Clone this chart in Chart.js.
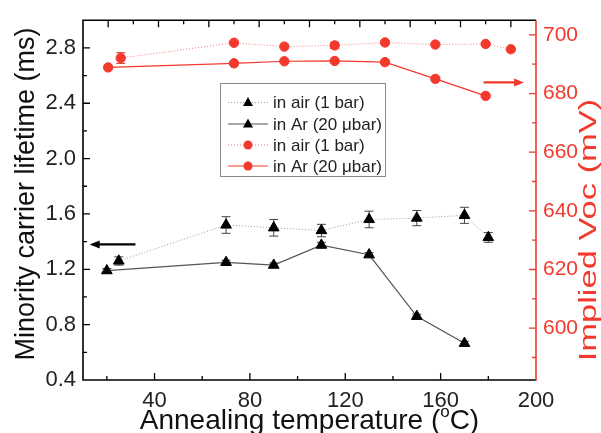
<!DOCTYPE html>
<html><head><meta charset="utf-8">
<script src="https://cdn.jsdelivr.net/npm/chart.js@4.4.0/dist/chart.umd.min.js"></script>
<style>html,body{margin:0;padding:0;background:#fff;}#wrap{width:601px;height:433px;}</style>
</head><body><div id="wrap"><canvas id="c" width="601" height="433"></canvas></div>
<script>
// ---- data ----
const tempAirLife = [25, 70, 90, 110, 130, 150, 170, 180];
const lifeAir     = [1.26, 1.52, 1.50, 1.48, 1.56, 1.57, 1.59, 1.43];
const lifeAirErr  = [0.03, 0.06, 0.06, 0.045, 0.06, 0.055, 0.058, 0.035];
const tempArLife  = [20, 70, 90, 110, 130, 150, 170];
const lifeAr      = [1.19, 1.25, 1.23, 1.375, 1.305, 0.86, 0.665];
const lifeArErr   = [0.015, 0.015, 0.015, 0.02, 0.015, 0.015, 0.015];
const tempAirVoc  = [25, 70, 90, 110, 130, 150, 170, 180];
const vocAir      = [692.1, 697.3, 696.0, 696.4, 697.4, 696.7, 696.9, 695.1];
const vocAirErr   = [1.8, 0, 0, 1.0, 0, 0, 0, 0];
const tempArVoc   = [20, 70, 90, 110, 130, 150, 170];
const vocAr       = [688.9, 690.3, 691.0, 691.1, 690.7, 685.0, 679.2];
const xTickLabels    = [40, 80, 120, 160, 200];
const lifeTickLabels = [0.4, 0.8, 1.2, 1.6, 2.0, 2.4, 2.8];
const vocTickLabels  = [600, 620, 640, 660, 680, 700];
const legendLabels = ['in air (1 bar)', 'in Ar (20 \u03bcbar)', 'in air (1 bar)', 'in Ar (20 \u03bcbar)'];

const RED = '#f2392c';
const FONT = '"Liberation Sans", Arial, sans-serif';

const pts = (xs, ys) => xs.map((x, i) => ({x, y: ys[i]}));

const datasets = [
  {label: legendLabels[0], data: pts(tempAirLife, lifeAir), err: lifeAirErr, xAxisID: 'x', yAxisID: 'y',
   borderColor: '#9a9a9a', borderDash: [1, 2], borderWidth: 1, pointStyle: 'triangle', pointRadius: 6.2,
   pointBackgroundColor: '#000', pointBorderColor: '#000', pointBorderWidth: 1, errColor: '#444'},
  {label: legendLabels[1], data: pts(tempArLife, lifeAr), err: lifeArErr, xAxisID: 'x', yAxisID: 'y',
   borderColor: '#555', borderDash: [], borderWidth: 1.2, pointStyle: 'triangle', pointRadius: 6.2,
   pointBackgroundColor: '#000', pointBorderColor: '#000', pointBorderWidth: 1, errColor: '#444'},
  {label: legendLabels[2], data: pts(tempAirVoc, vocAir), err: vocAirErr, xAxisID: 'x2', yAxisID: 'y2',
   borderColor: '#f77', borderDash: [1, 2], borderWidth: 1, pointStyle: 'circle', pointRadius: 4.7,
   pointBackgroundColor: RED, pointBorderColor: RED, pointBorderWidth: 1, errColor: '#c22'},
  {label: legendLabels[3], data: pts(tempArVoc, vocAr), xAxisID: 'x2', yAxisID: 'y2',
   borderColor: RED, borderDash: [], borderWidth: 1.2, pointStyle: 'circle', pointRadius: 4.7,
   pointBackgroundColor: RED, pointBorderColor: RED, pointBorderWidth: 1}
];
datasets.forEach(d => { d.showLine = true; d.fill = false; d.tension = 0; });

// annotation arrows, in data coordinates
const arrows = [
  {xAxis: 'x', yAxis: 'y', from: 32, to: 12.8, at: 1.38, color: '#000'},
  {xAxis: 'x', yAxis: 'y2', from: 178, to: 195, at: 683.8, color: RED}
];

const fixedTicks = vals => s => { s.ticks = vals.map(v => ({value: v})); };

const drawPlugin = {
  id: 'origin',
  beforeDatasetsDraw(chart) {
    const ctx = chart.ctx;
    chart.data.datasets.forEach(ds => {
      if (!ds.err) return;
      const xs = chart.scales[ds.xAxisID], ys = chart.scales[ds.yAxisID];
      ctx.save();
      ctx.strokeStyle = ds.errColor; ctx.lineWidth = 1;
      ds.data.forEach((p, i) => {
        const e = ds.err[i]; if (!e) return;
        const px = xs.getPixelForValue(p.x);
        const y1 = ys.getPixelForValue(p.y + e), y2 = ys.getPixelForValue(p.y - e);
        ctx.beginPath();
        ctx.moveTo(px, y1); ctx.lineTo(px, y2);
        ctx.moveTo(px - 4.5, y1); ctx.lineTo(px + 4.5, y1);
        ctx.moveTo(px - 4.5, y2); ctx.lineTo(px + 4.5, y2);
        ctx.stroke();
      });
      ctx.restore();
    });
  },
  afterDraw(chart) {
    const ctx = chart.ctx, a = chart.chartArea, S = chart.scales;
    ctx.save();
    // ticks
    const tick = (color, list) => {
      ctx.strokeStyle = color; ctx.lineWidth = 1.3; ctx.beginPath();
      list.forEach(([x1, y1, x2, y2]) => { ctx.moveTo(x1, y1); ctx.lineTo(x2, y2); });
      ctx.stroke();
    };
    const bt = [];
    for (let v = 20; v < 200; v += 20) { const px = S.x.getPixelForValue(v); const L = v % 40 === 0 ? 7 : 4; bt.push([px, a.bottom, px, a.bottom - L]); }
    for (let v = 20; v < 190; v += 10) { const px = S.x2.getPixelForValue(v); const L = v % 20 === 0 ? 7 : 4; bt.push([px, a.top, px, a.top + L]); }
    for (let v = 0.6; v < 2.99; v += 0.2) { const py = S.y.getPixelForValue(v); const L = Math.round(v * 10) % 4 === 0 ? 7 : 4; bt.push([a.left, py, a.left + L, py]); }
    tick('#000', bt);
    const rt = [];
    for (let v = 590; v <= 700; v += 10) { const py = S.y2.getPixelForValue(v); const L = v % 20 === 0 ? 7 : 4; rt.push([a.right, py, a.right - L, py]); }
    tick(RED, rt);
    // frame
    ctx.lineWidth = 1.6; ctx.strokeStyle = '#000'; ctx.beginPath();
    ctx.moveTo(a.right, a.top); ctx.lineTo(a.left, a.top); ctx.lineTo(a.left, a.bottom); ctx.lineTo(a.right, a.bottom);
    ctx.stroke();
    ctx.strokeStyle = RED; ctx.beginPath(); ctx.moveTo(a.right, a.top); ctx.lineTo(a.right, a.bottom + 0.8); ctx.stroke();
    // arrows
    arrows.forEach(ar => {
      const x1 = S[ar.xAxis].getPixelForValue(ar.from), x2 = S[ar.xAxis].getPixelForValue(ar.to);
      const y = S[ar.yAxis].getPixelForValue(ar.at);
      const dir = Math.sign(x2 - x1);
      ctx.strokeStyle = ar.color; ctx.fillStyle = ar.color; ctx.lineWidth = 2.4;
      ctx.beginPath(); ctx.moveTo(x1, y); ctx.lineTo(x2 - dir * 7, y); ctx.stroke();
      ctx.beginPath(); ctx.moveTo(x2, y); ctx.lineTo(x2 - dir * 10, y - 4); ctx.lineTo(x2 - dir * 10, y + 4); ctx.closePath(); ctx.fill();
    });
    // legend
    ctx.strokeStyle = '#8a8a8a'; ctx.lineWidth = 1; ctx.strokeRect(220.5, 83.5, 165, 93);
    const ly = [102.5, 124, 145, 166];
    chart.data.datasets.forEach((ds, i) => {
      const y = ly[i];
      ctx.save();
      ctx.strokeStyle = ds.borderColor; ctx.lineWidth = ds.borderWidth; ctx.setLineDash(ds.borderDash);
      ctx.beginPath(); ctx.moveTo(228, y); ctx.lineTo(268, y); ctx.stroke();
      ctx.restore();
      ctx.fillStyle = ds.pointBackgroundColor;
      ctx.beginPath();
      if (ds.pointStyle === 'triangle') { ctx.moveTo(248, y - 5.5); ctx.lineTo(253, y + 3.5); ctx.lineTo(243, y + 3.5); ctx.closePath(); }
      else { ctx.arc(248, y, 4.5, 0, Math.PI * 2); }
      ctx.fill();
      ctx.fillStyle = '#222'; ctx.font = '17px ' + FONT; ctx.textAlign = 'left'; ctx.textBaseline = 'middle';
      ctx.fillText(ds.label, 273, y + 1);
    });
    // axis titles
    ctx.fillStyle = '#111'; ctx.textBaseline = 'alphabetic';
    ctx.save(); ctx.translate(34, 194); ctx.rotate(-Math.PI / 2);
    ctx.font = '27px ' + FONT; ctx.textAlign = 'center';
    ctx.fillText('Minority carrier lifetime (ms)', 0, 0); ctx.restore();
    // bottom title with superscript degree
    ctx.textAlign = 'left';
    const p1 = 'Annealing temperature (', p3 = 'C)';
    ctx.font = '28px ' + FONT; const w1 = ctx.measureText(p1).width, w3 = ctx.measureText(p3).width;
    ctx.font = '17px ' + FONT; const w2 = ctx.measureText('o').width;
    const tot = w1 + w2 + w3; let tx = (a.left + a.right) / 2 - tot / 2; const by = 429;
    ctx.font = '28px ' + FONT; ctx.fillText(p1, tx, by); tx += w1;
    ctx.font = '17px ' + FONT; ctx.fillText('o', tx, by - 12); tx += w2;
    ctx.font = '28px ' + FONT; ctx.fillText(p3, tx, by);
    // right title
    ctx.fillStyle = RED;
    ctx.save(); ctx.translate(596, 230); ctx.rotate(-Math.PI / 2); ctx.scale(1.5, 1);
    ctx.font = '23px ' + FONT; ctx.textAlign = 'center';
    ctx.fillText('Implied Voc (mV)', 0, 0); ctx.restore();
    ctx.restore();
  }
};

new Chart(document.getElementById('c'), {
  type: 'scatter',
  data: {datasets},
  options: {
    responsive: false, animation: false, devicePixelRatio: 1,
    layout: {padding: {top: 12, left: 0, right: 0, bottom: 0}},
    plugins: {legend: {display: false}, tooltip: {enabled: false}},
    scales: {
      x: {type: 'linear', position: 'bottom', min: 10, max: 200,
          afterFit: s => { s.height = 53; }, afterBuildTicks: fixedTicks(xTickLabels),
          grid: {display: false, drawTicks: false}, border: {display: false},
          ticks: {color: '#222', font: {family: FONT, size: 22}, padding: 8, autoSkip: false, maxRotation: 0}},
      x2: {type: 'linear', position: 'top', min: 10, max: 190, display: false},
      y: {type: 'linear', position: 'left', min: 0.4, max: 3.0,
          afterFit: s => { s.width = 83; }, afterBuildTicks: fixedTicks(lifeTickLabels),
          grid: {display: false, drawTicks: false}, border: {display: false},
          ticks: {color: '#222', font: {family: FONT, size: 22}, padding: 7, autoSkip: false, callback: v => v.toFixed(1)}},
      y2: {type: 'linear', position: 'right', min: 582.33, max: 705,
          afterFit: s => { s.width = 65; }, afterBuildTicks: fixedTicks(vocTickLabels),
          grid: {display: false, drawTicks: false}, border: {display: false},
          ticks: {color: RED, font: {family: FONT, size: 21}, padding: 7, autoSkip: false}}
    }
  },
  plugins: [drawPlugin]
});
</script></body></html>
